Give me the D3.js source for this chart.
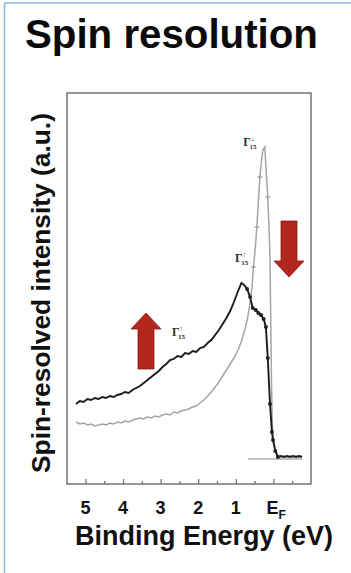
<!DOCTYPE html>
<html><head><meta charset="utf-8">
<script src="https://cdn.jsdelivr.net/npm/d3@7"></script>
<style>html,body{margin:0;padding:0;background:#fff;}svg{display:block;}</style>
</head><body>
<script>
// ---- data (binding energy in eV, intensity in arbitrary units) ----
const tickValues = [5, 4.5, 4, 3.5, 3, 2.5, 2, 1.5, 1, 0.5, 0, -0.5];
const tickLabels = ["5", "4", "3", "2", "1", "E"];
const tickLabelPos = [5, 4, 3, 2, 1, 0];

const upE = [5.25,5.15,5.05,4.95,4.85,4.75,4.65,4.55,4.45,4.35,4.25,4.15,4.05,3.95,3.85,3.75,3.65,3.55,3.45,3.35,3.25,3.15,3.05,2.95,2.85,2.75,2.65,2.55,2.45,2.35,2.25,2.15,2.05,1.95,1.85,1.75,1.65,1.55,1.45,1.35,1.25,1.15,1.05,0.95,0.85,0.78,0.70,0.62,0.55,0.47,0.40,0.33,0.26,0.20,0.15,0.09,0.04,0.01,-0.05,-0.12,-0.20,-0.28,-0.36,-0.44,-0.52,-0.60,-0.68,-0.76];
const upI = [80,83,82,85,84,86,85,87,86,88,87,89,90,92,91,94,96,98,101,104,107,110,113,117,120,124,125,128,127,131,130,133,132,136,137,141,144,149,154,160,166,173,182,192,201,199,195,187,176,174,171,169,165,157,126,80,52,44,33,27,28,27,28,27,28,27,28,27];

const downE = [5.25,5.15,5.05,4.95,4.85,4.75,4.65,4.55,4.45,4.35,4.25,4.15,4.05,3.95,3.85,3.75,3.65,3.55,3.45,3.35,3.25,3.15,3.05,2.95,2.85,2.75,2.65,2.55,2.45,2.35,2.25,2.15,2.05,1.95,1.85,1.75,1.65,1.55,1.45,1.35,1.25,1.15,1.05,0.95,0.85,0.76,0.68,0.62,0.57,0.53,0.48,0.44,0.40,0.36,0.32,0.28,0.23,0.19,0.15,0.12,0.09,0.07,0.05,0.03,0.01,-0.05,-0.12,-0.20,-0.28,-0.36,-0.44,-0.52,-0.60,-0.68,-0.76];
const downI = [62,60,61,59,60,58,59,60,59,61,60,62,61,63,62,64,65,66,65,67,66,68,67,69,70,69,72,71,73,74,75,77,78,81,84,88,92,97,102,108,114,120,126,133,143,154,167,182,197,217,237,257,282,307,322,334,337,312,287,260,226,160,100,60,44,33,28,27,28,27,28,27,28,27,28];
const downMarkerE = [0.53, 0.44, 0.36, 0.15];

const peakLabels = [
  {E: 0.80, I: 338, spin: "↓", sub: "15"},
  {E: 1.02, I: 222, spin: "↑", sub: "15"},
  {E: 2.70, I: 148, spin: "↑", sub: "15"}
];
const baselineE = [0.68, -0.76];
const baselineI = 25;

// ---- layout ----
const W = 351, H = 573;
const svg = d3.select("body").append("svg").attr("width", W).attr("height", H);
svg.append("rect").attr("width", W).attr("height", H).attr("fill", "#fff");

// light blue border (top and left)
svg.append("line").attr("x1", 4.5).attr("x2", 4.5).attr("y1", 3).attr("y2", H).attr("stroke", "#8db9e6").attr("stroke-width", 1.6);
svg.append("line").attr("x1", 4).attr("x2", W).attr("y1", 3).attr("y2", 3).attr("stroke", "#8db9e6").attr("stroke-width", 1.6);

const x = d3.scaleLinear().domain([5.49, -1.0]).range([67, 311]);
const y = d3.scaleLinear().domain([0, 391]).range([484, 93]);

// frame
svg.append("rect").attr("x", x(5.49)).attr("y", y(391)).attr("width", x(-1.0) - x(5.49)).attr("height", y(0) - y(391))
  .attr("fill", "none").attr("stroke", "#6a6a6a").attr("stroke-width", 1.4);

// ticks
const axis = d3.axisBottom(x).tickValues(tickValues).tickSizeInner(-5).tickSizeOuter(0).tickFormat("");
const gA = svg.append("g").attr("transform", `translate(0,${y(0)})`).call(axis);
gA.select(".domain").remove();
gA.selectAll(".tick line").attr("stroke", "#6a6a6a").attr("stroke-width", 1.2)
  .attr("y2", d => Number.isInteger(d) ? -5 : -3);

// tick labels
const tl = svg.append("g").attr("font-family", "Liberation Sans, Arial, sans-serif").attr("font-weight", "bold")
  .attr("font-size", 18).attr("fill", "#111");
tickLabelPos.forEach((v, i) => {
  const t = tl.append("text").attr("x", x(v)).attr("y", 514).attr("text-anchor", "middle").text(tickLabels[i]);
  if (tickLabels[i] === "E") {
    t.attr("text-anchor", "start").attr("x", x(v) - 7);
    t.append("tspan").attr("font-size", 12).attr("dy", 5).text("F");
  }
});

// baseline
svg.append("line").attr("x1", x(baselineE[0])).attr("x2", x(baselineE[1])).attr("y1", y(baselineI)).attr("y2", y(baselineI))
  .attr("stroke", "#777").attr("stroke-width", 0.9);

// curves
const line = d3.line().x(d => x(d[0])).y(d => y(d[1]));
const down = downE.map((e, i) => [e, downI[i]]);
const up = upE.map((e, i) => [e, upI[i]]);
svg.append("path").datum(down).attr("d", line).attr("fill", "none").attr("stroke", "#a5a5a5").attr("stroke-width", 1.5);
svg.append("path").datum(up).attr("d", line).attr("fill", "none").attr("stroke", "#1c1c1c").attr("stroke-width", 1.9);

// markers
svg.append("g").selectAll("line").data(down.filter(d => downMarkerE.includes(d[0]))).join("line")
  .attr("x1", d => x(d[0]) - 2.5).attr("x2", d => x(d[0]) + 2.5).attr("y1", d => y(d[1])).attr("y2", d => y(d[1]))
  .attr("stroke", "#999").attr("stroke-width", 1.2);
svg.append("g").selectAll("circle").data(up.filter(d => d[0] < 0.75 && d[0] > -0.2)).join("circle")
  .attr("cx", d => x(d[0])).attr("cy", d => y(d[1])).attr("r", 2).attr("fill", "#222");

// peak labels
const pl = svg.append("g").attr("font-family", "Liberation Serif, DejaVu Serif, serif").attr("fill", "#333");
peakLabels.forEach(p => {
  const t = pl.append("text").attr("x", x(p.E)).attr("y", y(p.I)).attr("font-size", 12).attr("font-weight", "bold");
  t.append("tspan").text("Γ");
  t.append("tspan").attr("font-size", 7).attr("dy", -5).text(p.spin);
  t.append("tspan").attr("font-size", 7).attr("dx", -5).attr("dy", 8).text(p.sub);
});

// red arrows
function arrow(cx, yTip, yBase, dir) {
  const sw = 8, hw = 15, hl = 16;
  const yh = yTip - dir * hl;
  const pts = [[cx, yTip], [cx + hw, yh], [cx + sw, yh], [cx + sw, yBase], [cx - sw, yBase], [cx - sw, yh], [cx - hw, yh]];
  svg.append("path").attr("d", "M" + pts.map(p => p.join(",")).join("L") + "Z")
    .attr("fill", "#b3261e").attr("stroke", "#8a1a14").attr("stroke-width", 0.8);
}
arrow(146, 313, 369, -1);
arrow(289, 277, 221, 1);

// titles
function fitText(sel, target) {
  const len = sel.node().getComputedTextLength();
  const fs = parseFloat(sel.attr("font-size"));
  sel.attr("font-size", fs * target / len);
}
const title = svg.append("text").attr("x", 25).attr("y", 48).attr("font-family", "Liberation Sans, Arial, sans-serif")
  .attr("font-weight", "bold").attr("font-size", 36).attr("fill", "#0a0a0a").text("Spin resolution");
fitText(title, 293);

const xl = svg.append("text").attr("x", 204).attr("y", 545).attr("text-anchor", "middle")
  .attr("font-family", "Liberation Sans, Arial, sans-serif").attr("font-weight", "bold").attr("font-size", 22)
  .attr("fill", "#111").text("Binding Energy (eV)");
fitText(xl, 258);

const yl = svg.append("text").attr("transform", "translate(50,293) rotate(-90)").attr("text-anchor", "middle")
  .attr("font-family", "Liberation Sans, Arial, sans-serif").attr("font-weight", "bold").attr("font-size", 20)
  .attr("fill", "#111").text("Spin-resolved intensity (a.u.)");
fitText(yl, 360);
</script>
</body></html>
